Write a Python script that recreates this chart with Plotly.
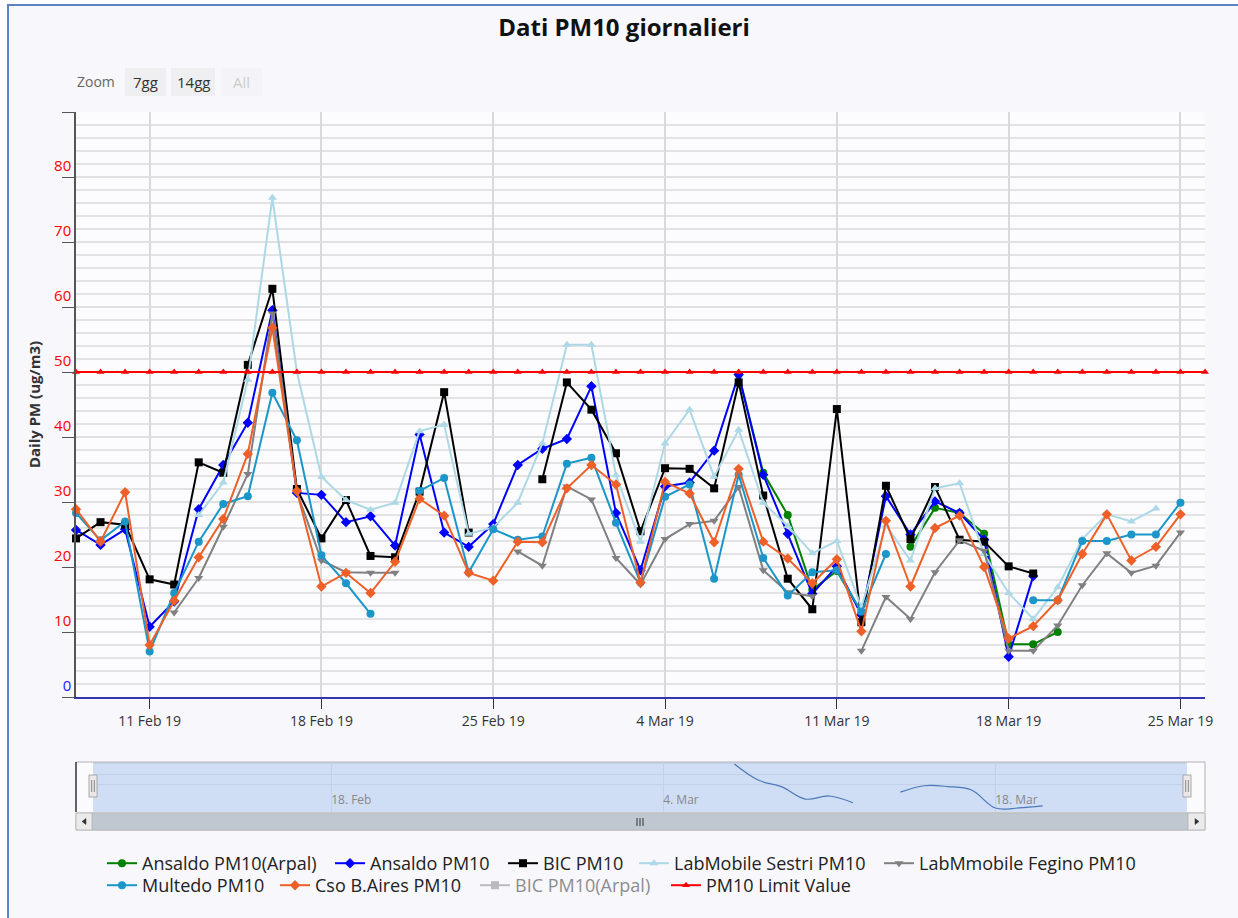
import plotly.graph_objects as go
import pandas as pd

# ---------------- data ----------------
N = None
dates = pd.date_range("2019-02-08", "2019-03-25", freq="D")        # 46 days
limit_dates = pd.date_range("2019-02-08", "2019-03-26", freq="D")  # 47 days

ansaldo_arpal = [N, N, N, N, N, N, N, N, N, N,
                 N, N, N, N, N, N, N, N, N, N,
                 N, N, N, N, N, N, N, 49.6, 34.5, 28.0,
                 16.5, 19.4, 13.0, N, 23.1, 29.1, 28.3, 25.1, 8.1, 8.1,
                 10.0, N, N, N, N, N]

ansaldo = [25.7, 23.4, 25.8, 10.8, 14.7, 28.9, 35.7, 42.2, 59.5, 31.4,
           31.1, 26.9, 27.8, 23.3, 40.4, 25.3, 23.1, 26.6, 35.7, 38.2,
           39.7, 47.8, 28.3, 19.5, 32.4, 33.0, 37.9, 49.6, 34.2, 25.1,
           15.9, 20.1, 12.6, 30.9, 25.0, 30.1, 28.3, 24.2, 6.2, 18.6,
           N, N, N, N, N, N]

bic = [24.4, 26.9, 26.5, 18.1, 17.3, 36.1, 34.5, 51.1, 62.8, 32.0,
       24.4, 30.3, 21.7, 21.5, 31.6, 46.9, 25.3, N, N, 33.5,
       48.4, 44.2, 37.5, 25.5, 35.2, 35.1, 32.1, 48.4, 31.0, 18.2,
       13.5, 44.3, 11.5, 32.5, 24.3, 32.3, 24.2, 23.9, 20.1, 19.0,
       N, N, N, N, N, N]

sestri = [N, N, N, N, N, 28.0, 33.0, 48.8, 76.8, 50.0,
          33.9, 30.3, 28.8, 29.9, 40.9, 41.9, 25.1, 26.1, 29.9, 39.0,
          54.2, 54.2, 34.1, 23.9, 39.0, 44.2, 33.9, 41.1, 29.9, 26.3,
          22.1, 24.0, 13.8, 26.4, 21.0, 32.1, 32.9, 22.0, 16.0, 12.0,
          16.9, 24.3, 28.1, 27.0, 29.0, N]

fegino = [N, N, N, N, 13.0, 18.3, 26.2, 34.3, 59.0, 31.5,
          21.0, 19.2, 19.1, 19.1, N, N, N, N, 22.4, 20.2,
          32.4, 30.4, 21.4, 17.3, 24.3, 26.6, 27.1, 32.3, 19.5, 16.1,
          15.5, N, 7.1, 15.4, 12.0, 19.2, 24.1, 22.5, 7.1, 7.1,
          11.0, 17.2, 22.1, 19.1, 20.2, 25.3]

multedo = [28.3, 24.1, 27.0, 7.0, 16.0, 23.9, 29.7, 30.9, 46.8, 39.5,
           21.8, 17.5, 12.8, N, 31.7, 33.7, 19.2, 25.8, 24.2, 24.7,
           35.9, 36.8, 26.8, 17.6, 30.8, 32.7, 18.2, 34.2, 21.4, 15.6,
           19.2, 19.5, 13.1, 22.0, N, N, N, N, N, 14.9,
           14.9, 24.0, 24.0, 25.0, 25.0, 29.9]

bo_aires = [28.9, 23.9, 31.5, 8.0, 14.8, 21.5, 27.4, 37.4, 56.8, 31.7,
            17.0, 19.1, 16.0, 20.8, 30.5, 27.9, 19.1, 17.9, 23.9, 23.8,
            32.1, 35.7, 32.7, 17.6, 33.1, 31.3, 23.8, 35.1, 23.9, 21.3,
            17.5, 21.2, 10.1, 27.1, 17.0, 26.0, 27.9, 20.0, 9.0, 10.9,
            14.9, 22.0, 28.1, 21.0, 23.1, 28.1]

# hidden series (shown only in the legend, greyed out) - values not visible
bic_arpal = [N, N, N, N, N, N, N, N, N, N,
             N, N, N, N, N, N, N, N, N, N,
             N, N, N, N, N, N, N, N, N, N,
             N, N, N, N, N, N, N, N, N, N,
             N, N, N, N, N, N]

limit_value = [50, 50, 50, 50, 50, 50, 50, 50, 50, 50,
               50, 50, 50, 50, 50, 50, 50, 50, 50, 50,
               50, 50, 50, 50, 50, 50, 50, 50, 50, 50,
               50, 50, 50, 50, 50, 50, 50, 50, 50, 50,
               50, 50, 50, 50, 50, 50, 50]

y_tick_vals = [0, 10, 20, 30, 40, 50, 60, 70, 80, 90]
y_tick_text = ["<span style='color:#2020ff'>0</span>", "10", "20", "30", "40",
               "50", "60", "70", "80", ""]

# ---------------- layout geometry ----------------
W, H = 1238, 918
ML, MR, MT, MB = 76, 33, 112, 88
PW = W - ML - MR
PH = H - MT - MB


def px(x):
    return (x - ML) / PW


def py(y):
    return (H - MB - y) / PH


FONT = "Open Sans, Roboto, sans-serif"

# name, values, colour, marker, visibility, legend text x, legend row
series = [
    ("Ansaldo PM10(Arpal)", ansaldo_arpal, "#008000", "circle", True, 142, 0),
    ("Ansaldo PM10", ansaldo, "#0000ff", "diamond", True, 370, 0),
    ("BIC PM10", bic, "#000000", "square", True, 543, 0),
    ("LabMobile Sestri PM10", sestri, "#add8e6", "triangle-up", True, 674, 0),
    ("LabMmobile Fegino PM10", fegino, "#808080", "triangle-down", True, 919, 0),
    ("Multedo PM10", multedo, "#1a96c8", "circle", True, 142, 1),
    ("Cso B.Aires PM10", bo_aires, "#ee6028", "diamond", True, 315, 1),
    ("BIC PM10(Arpal)", bic_arpal, "#808080", "square", "legendonly", 515, 1),
]

ROW_TOP = [845, 867]
LEG_FONT = dict(family=FONT, size=18, color="#222222")
TEXT_OFF = 40
legend_layouts = {}

fig = go.Figure()
for i, (name, vals, color, sym, vis, tx, row) in enumerate(series):
    lg = "legend" if i == 0 else f"legend{i + 1}"
    fig.add_trace(go.Scatter(
        x=dates, y=vals, name=name, mode="lines+markers",
        line=dict(color=color, width=2),
        marker=dict(color=color, symbol=sym, size=8),
        connectgaps=False, legend=lg, visible=vis,
        xaxis="x", yaxis="y", cliponaxis=False))
    legend_layouts[lg] = dict(x=px(tx - TEXT_OFF), xanchor="left", y=py(ROW_TOP[row]), yanchor="top",
                              orientation="h", font=LEG_FONT, itemwidth=30,
                              bgcolor="rgba(0,0,0,0)")

fig.add_trace(go.Scatter(
    x=limit_dates, y=limit_value, name="PM10 Limit Value", mode="lines+markers",
    line=dict(color="#ff0000", width=2),
    marker=dict(color="#ff0000", symbol="triangle-up", size=7),
    legend="legend9", xaxis="x", yaxis="y", cliponaxis=False))
legend_layouts["legend9"] = dict(x=px(706 - TEXT_OFF), xanchor="left", y=py(ROW_TOP[1]), yanchor="top",
                                 orientation="h", font=LEG_FONT, itemwidth=30,
                                 bgcolor="rgba(0,0,0,0)")

# navigator series
fig.add_trace(go.Scatter(
    x=dates, y=ansaldo_arpal, mode="lines", line=dict(color="#4a78b8", width=1.2, shape="spline"),
    connectgaps=False, showlegend=False, hoverinfo="skip", xaxis="x2", yaxis="y3"))

# ---------------- shapes ----------------
shapes = []


def rect(x0, y0, x1, y1, fill, line="rgba(0,0,0,0)", lw=1, layer="below"):
    shapes.append(dict(type="rect", xref="paper", yref="paper",
                       x0=px(x0), x1=px(x1), y0=py(y1), y1=py(y0),
                       fillcolor=fill, line=dict(color=line, width=lw), layer=layer))


def line(x0, y0, x1, y1, color, lw=1, layer="below"):
    shapes.append(dict(type="line", xref="paper", yref="paper",
                       x0=px(x0), x1=px(x1), y0=py(y0), y1=py(y1),
                       line=dict(color=color, width=lw), layer=layer))


def path(pts, fill, layer="above"):
    d = "M " + " L ".join(f"{px(a)},{py(b)}" for a, b in pts) + " Z"
    shapes.append(dict(type="path", xref="paper", yref="paper", path=d,
                       fillcolor=fill, line=dict(color=fill, width=0.5), layer=layer))


# chart background + border
rect(8, 5, 1260, 940, "#f7f7fc", "#5b83c4", 2)
# plot area
rect(76, 112, 1205, 697, "#fcfcff")
# navigator
rect(76, 762, 1205, 812, "#fbfbfd")
rect(93, 762, 1187, 812, "#d0def5")
line(76, 762, 1205, 762, "#b2b1b6", 1)
line(76, 762, 76, 812, "#333333", 1.5)
line(1205, 762, 1205, 812, "#b2b1b6", 1)
# handles
for hx in (93, 1187):
    rect(hx - 4, 775, hx + 4, 797, "#ebe7e8", "#a8a8a8", 1, layer="above")
    line(hx - 1.3, 780, hx - 1.3, 792, "#888888", 1, layer="above")
    line(hx + 1.3, 780, hx + 1.3, 792, "#888888", 1, layer="above")
# scrollbar
rect(76, 813, 1205, 830, "#eeeeee", "#bbbbbb", 1, layer="above")
rect(92, 813, 1188, 830, "#bfc8d1", "#bbbbbb", 1, layer="above")
rect(76, 813, 92, 830, "#ebebeb", "#bbbbbb", 1, layer="above")
rect(1188, 813, 1205, 830, "#ebebeb", "#bbbbbb", 1, layer="above")
path([(82, 821.5), (86, 818.5), (86, 824.5)], "#333333")
path([(1199, 821.5), (1195, 818.5), (1195, 824.5)], "#333333")
for gx in (637, 640, 643):
    line(gx, 818, gx, 826, "#333333", 1, layer="above")
# zoom buttons
rect(125, 68, 166, 96, "#efeff2", layer="above")
rect(171, 68, 215, 96, "#efeff2", layer="above")
rect(221, 68, 262, 96, "#f4f4f8", layer="above")


def label(text, x, y, size, color):
    return dict(text=text, x=px(x), y=py(y), xref="paper", yref="paper", showarrow=False,
                xanchor="center", yanchor="middle",
                font=dict(family=FONT, size=size, color=color))


annotations = [
    label("Zoom", 96, 82, 14, "#666666"),
    label("7gg", 145.5, 82, 15, "#333333"),
    label("14gg", 193, 82, 15, "#333333"),
    label("All", 241.5, 82, 15, "#cccccc"),
]

week = 7 * 24 * 3600 * 1000
yaxis_common = dict(range=[0, 90], tickmode="array", tickvals=y_tick_vals, ticktext=y_tick_text,
                    tickfont=dict(family=FONT, size=15, color="#ff0000"),
                    ticks="outside", ticklen=12, tickcolor="#555555", tickwidth=1,
                    ticklabelposition="outside top",
                    showline=True, linecolor="#555555", linewidth=1.5, zeroline=False,
                    fixedrange=True)

fig.update_layout(
    width=W, height=H,
    margin=dict(l=ML, r=MR, t=MT, b=MB, autoexpand=False),
    paper_bgcolor="white", plot_bgcolor="rgba(0,0,0,0)",
    title=dict(text="<b>Dati PM10 giornalieri</b>", x=624 / W, xanchor="center", xref="container",
               y=1 - 28 / H, yanchor="middle",
               font=dict(family=FONT, size=24, color="#111111")),
    xaxis=dict(domain=[0, 1], anchor="y", range=["2019-02-08", "2019-03-26"],
               tick0="2019-02-11", dtick=week, tickformat="%-d %b %y",
               tickfont=dict(family=FONT, size=14, color="#333333"),
               ticks="outside", ticklen=10, tickcolor="#333333",
               showgrid=True, gridcolor="#d9d9d9", gridwidth=1.5,
               showline=True, linecolor="#3535b0", linewidth=2, zeroline=False),
    yaxis=dict(domain=[py(697), 1], anchor="x", side="left",
               title=dict(text="<b>Daily PM (ug/m3)</b>", standoff=10,
                          font=dict(family=FONT, size=15, color="#333333")),
               showgrid=True, gridcolor="#e0e0e0", gridwidth=1.5,
               minor=dict(tickmode="linear", tick0=0, dtick=2, showgrid=True,
                          gridcolor="#e3e3e3", gridwidth=1.5, ticks=""),
               **yaxis_common),
    yaxis2=dict(overlaying="y", anchor="x", side="right", showgrid=False, **yaxis_common),
    xaxis2=dict(domain=[px(94), px(1185)], anchor="y3", range=["2019-02-08", "2019-03-26"],
                tick0="2019-02-04", dtick=2 * week, tickformat="%-d. %b",
                ticklabelposition="inside right", ticks="",
                tickfont=dict(family=FONT, size=12, color="#888888"),
                showgrid=True, gridcolor="#c2d0ea", gridwidth=1, showline=False, zeroline=False),
    yaxis3=dict(domain=[py(812), py(762)], anchor="x2", range=[4.3, 51.5],
                showticklabels=False, ticks="", tick0=0, dtick=10,
                showgrid=True, gridcolor="#c2d0ea", gridwidth=1, zeroline=False, showline=False),
    shapes=shapes,
    annotations=annotations,
    hovermode="x",
    **legend_layouts,
)

fig.write_html("out.html", config={"displayModeBar": False},
               post_script="document.body.style.margin='0px';")
